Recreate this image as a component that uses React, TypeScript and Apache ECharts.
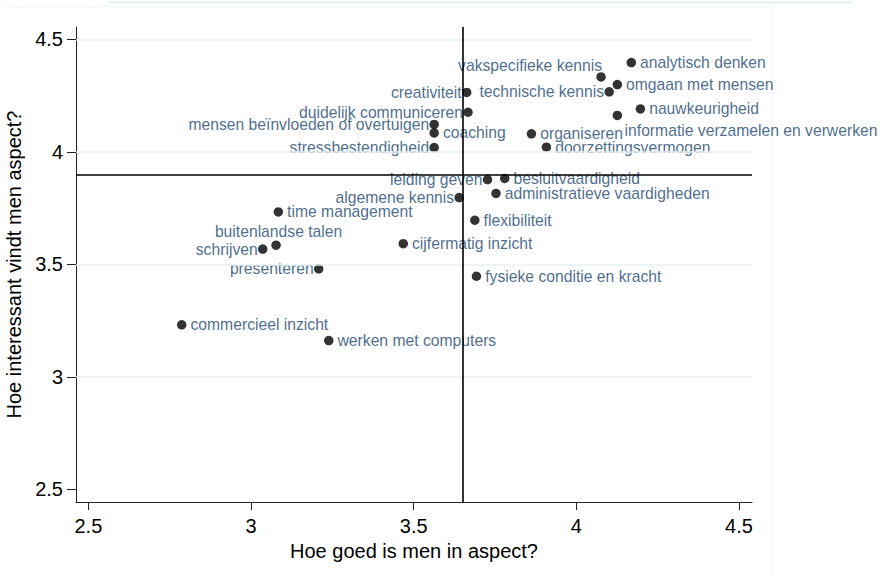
import { useEffect, useRef } from "react";
import * as echarts from "echarts";

const skills = [
  "analytisch denken",
  "vakspecifieke kennis",
  "omgaan met mensen",
  "technische kennis",
  "creativiteit",
  "duidelijk communiceren",
  "mensen beïnvloeden of overtuigen",
  "coaching",
  "stressbestendigheid",
  "organiseren",
  "doorzettingsvermogen",
  "nauwkeurigheid",
  "informatie verzamelen en verwerken",
  "leiding geven",
  "besluitvaardigheid",
  "administratieve vaardigheden",
  "algemene kennis",
  "flexibiliteit",
  "time management",
  "buitenlandse talen",
  "schrijven",
  "cijfermatig inzicht",
  "presenteren",
  "fysieke conditie en kracht",
  "commercieel inzicht",
  "werken met computers",
];

// Hoe goed is men in aspect?
const goodScores = [
  4.169, 4.076, 4.126, 4.101, 3.663, 3.667, 3.563, 3.563, 3.563, 3.862, 3.908,
  4.197, 4.126, 3.727, 3.78, 3.753, 3.64, 3.688, 3.084, 3.077, 3.036, 3.468,
  3.208, 3.693, 2.787, 3.239,
];

// Hoe interessant vindt men aspect?
const interestScores = [
  4.397, 4.333, 4.299, 4.267, 4.264, 4.176, 4.122, 4.084, 4.019, 4.08, 4.021,
  4.191, 4.162, 3.877, 3.882, 3.815, 3.797, 3.696, 3.733, 3.585, 3.568, 3.592,
  3.48, 3.447, 3.231, 3.161,
];

const labelSides = [
  "right", "topleft", "right", "left", "left", "left", "left", "right", "left",
  "right", "right", "right", "bottomright", "left", "right", "right", "left",
  "right", "right", "top", "left", "right", "left", "right", "right", "right",
];

const xTicks = [2.5, 3, 3.5, 4, 4.5];
const yTicks = [2.5, 3, 3.5, 4, 4.5];
const gridValues = [3, 3.5, 4, 4.5];
const meanGood = 3.65;
const meanInterest = 3.9;

const FONT = "'Liberation Sans', Arial, Helvetica, sans-serif";

function labelFor(side: string) {
  switch (side) {
    case "left":
    case "topleft":
      return { position: "left", distance: 0.3 };
    case "top":
      return { position: "top", distance: 1 };
    default:
      return { position: "right", distance: 4 };
  }
}

function shiftFor(side: string) {
  switch (side) {
    case "topleft":
      return { dx: 6, dy: -11.5 };
    case "bottomright":
      return { dx: -1.5, dy: 14.7 };
    case "top":
      return { dx: 2.5, dy: 0 };
    default:
      return { dx: 0, dy: 0 };
  }
}

export default function App() {
  const ref = useRef<HTMLDivElement>(null);

  useEffect(() => {
    if (!ref.current) return;
    const chart = echarts.init(ref.current, undefined, { renderer: "svg" });

    const points = skills.map((name, i) => ({
      name,
      value: [goodScores[i], interestScores[i]],
      label: labelFor(labelSides[i]),
    }));

    chart.setOption({
      animation: false,
      backgroundColor: "#ffffff",
      textStyle: { fontFamily: FONT },
      grid: {
        left: 76,
        right: 132,
        top: 27,
        bottom: 74,
        containLabel: false,
        outerBoundsMode: "none",
      },
      xAxis: {
        type: "value",
        min: 2.462,
        max: 4.54,
        name: "Hoe goed is men in aspect?",
        nameLocation: "middle",
        nameGap: 30,
        nameTextStyle: { fontSize: 20, color: "#000", fontFamily: FONT },
        axisLine: { show: true, onZero: false, lineStyle: { color: "#222", width: 1 } },
        axisTick: { show: true, length: 8, customValues: xTicks, lineStyle: { color: "#222" } },
        axisLabel: {
          customValues: xTicks,
          fontSize: 20,
          color: "#000",
          margin: 14,
          fontFamily: FONT,
        },
        splitLine: { show: false },
      },
      yAxis: {
        type: "value",
        min: 2.4435,
        max: 4.555,
        name: "Hoe interessant vindt men aspect?",
        nameLocation: "middle",
        nameGap: 49,
        nameTextStyle: { fontSize: 20, color: "#000", fontFamily: FONT },
        axisLine: { show: true, onZero: false, lineStyle: { color: "#222", width: 1 } },
        axisTick: { show: true, length: 9, customValues: yTicks, lineStyle: { color: "#222" } },
        axisLabel: {
          customValues: yTicks,
          fontSize: 20,
          color: "#000",
          margin: 13,
          fontFamily: FONT,
        },
        splitLine: { show: false },
      },
      graphic: [
        {
          type: "line",
          shape: { x1: 109, y1: 2.5, x2: 853, y2: 2.5 },
          style: { stroke: "#e4eef3", lineWidth: 2 },
          silent: true,
        },
        {
          type: "line",
          shape: { x1: 5, y1: 6.5, x2: 772, y2: 6.5 },
          style: { stroke: "#eef4f6", lineWidth: 1 },
          silent: true,
        },
        {
          type: "line",
          shape: { x1: 772.5, y1: 6.5, x2: 772.5, y2: 576 },
          style: { stroke: "#eef4f6", lineWidth: 1 },
          silent: true,
        },
      ],
      series: [
        {
          type: "scatter",
          name: "grid",
          data: [],
          silent: true,
          z: 1,
          markLine: {
            silent: true,
            symbol: "none",
            label: { show: false },
            lineStyle: { color: "#e6f0f4", width: 1.5, type: "solid" },
            data: gridValues.map((v) => ({ yAxis: v })),
          },
        },
        {
          type: "scatter",
          name: "means",
          data: [],
          silent: true,
          z: 2,
          markLine: {
            silent: true,
            symbol: "none",
            label: { show: false },
            lineStyle: { color: "#000", width: 1.6, type: "solid" },
            data: [{ xAxis: meanGood }, { yAxis: meanInterest }],
          },
        },
        {
          type: "scatter",
          name: "aspecten",
          z: 3,
          symbol: "circle",
          symbolSize: 9.5,
          itemStyle: { color: "#000" },
          label: {
            show: true,
            formatter: "{b}",
            fontSize: 15.7,
            color: "#1a476f",
            fontFamily: FONT,
          },
          labelLayout: (params: any) => {
            const s = shiftFor(labelSides[params.dataIndex]);
            return { dx: s.dx, dy: s.dy, hideOverlap: false };
          },
          data: points,
        },
      ],
    });

    return () => chart.dispose();
  }, []);

  return (
    <div
      ref={ref}
      style={{ position: "fixed", left: 0, top: 0, width: 884, height: 576 }}
    />
  );
}
